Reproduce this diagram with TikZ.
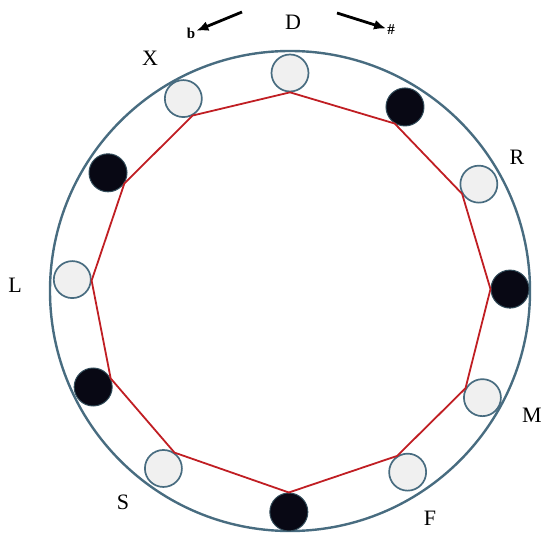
\documentclass[tikz,border=0pt]{standalone}
\usepackage{fontspec}
\setmainfont{Liberation Serif}
\usepackage{xcolor}
\usepackage{tikz}
\usetikzlibrary{arrows.meta}

\definecolor{ringblue}{RGB}{72,108,128}
\definecolor{ballgray}{RGB}{240,240,240}
\definecolor{ballblack}{RGB}{8,8,20}
\definecolor{chordred}{RGB}{192,30,35}

\tikzset{
  ring/.style={draw=ringblue, line width=2.4pt},
  openball/.style={circle, draw=ringblue, line width=1.7pt, fill=ballgray,
    minimum size=37pt, inner sep=0pt},
  darkball/.style={circle, draw=ringblue!70!black, line width=1pt, fill=ballblack,
    minimum size=38pt, inner sep=0pt},
  chord/.style={draw=chordred, line width=1.8pt, line join=miter},
  note/.style={font=\fontsize{22}{25}\selectfont, inner sep=1pt},
  accid/.style={font=\bfseries\fontsize{15}{17}\selectfont, inner sep=1pt},
  pointer/.style={line width=2.8pt, -{Latex[length=12pt,width=10pt]}}
}

\begin{document}
\begin{tikzpicture}[x=1pt,y=1pt]
  \useasboundingbox (0,0) rectangle (544,536);
  \begin{scope}[shift={(290,245)}]
    \draw[ring] (0,0) circle (240pt);
    % the twelve places round the ring
    \node[openball] (p1) at (90:218pt) {};
    \node[darkball] (p2) at (58:217pt) {};
    \node[openball] (p3) at (29.5:217pt) {};
    \node[darkball] (p4) at (0.5:220pt) {};
    \node[openball] (p5) at (-29:220pt) {};
    \node[openball] (p6) at (-57:216pt) {};
    \node[darkball] (p7) at (-90.3:221pt) {};
    \node[openball] (p8) at (-125.5:218pt) {};
    \node[darkball] (p9) at (-154:219pt) {};
    \node[openball] (p10) at (177:218pt) {};
    \node[darkball] (p11) at (147:217pt) {};
    \node[openball] (p12) at (119:220pt) {};
    \draw[chord] (p1.270) -- (p2.238) -- (p3.210) -- (p4.180) -- (p5.151)
      -- (p6.123) -- (p7.90) -- (p8.55) -- (p9.26) -- (p10.357)
      -- (p11.327) -- (p12.299) -- cycle;
  \end{scope}
  \node[note] (dlab) at (293,514) {D};
  \node[note] (xlab) at (150,478) {X};
  \node[note] (rlab) at (517,379) {R};
  \node[note] (llab) at (15,251) {L};
  \node[note] (slab) at (123,34) {S};
  \node[note] (mlab) at (532,121) {M};
  \node[note] (flab) at (430,18) {F};
  \node[accid] (flat) at (191,503) {b};
  \node[accid] (sharp) at (391,506) {\#};
  \coordinate (flatfrom) at (242,524);
  \coordinate (sharpfrom) at (337,523);
  \draw[pointer] (flatfrom) -- (flat);
  \draw[pointer] (sharpfrom) -- (sharp);
\end{tikzpicture}
\end{document}
